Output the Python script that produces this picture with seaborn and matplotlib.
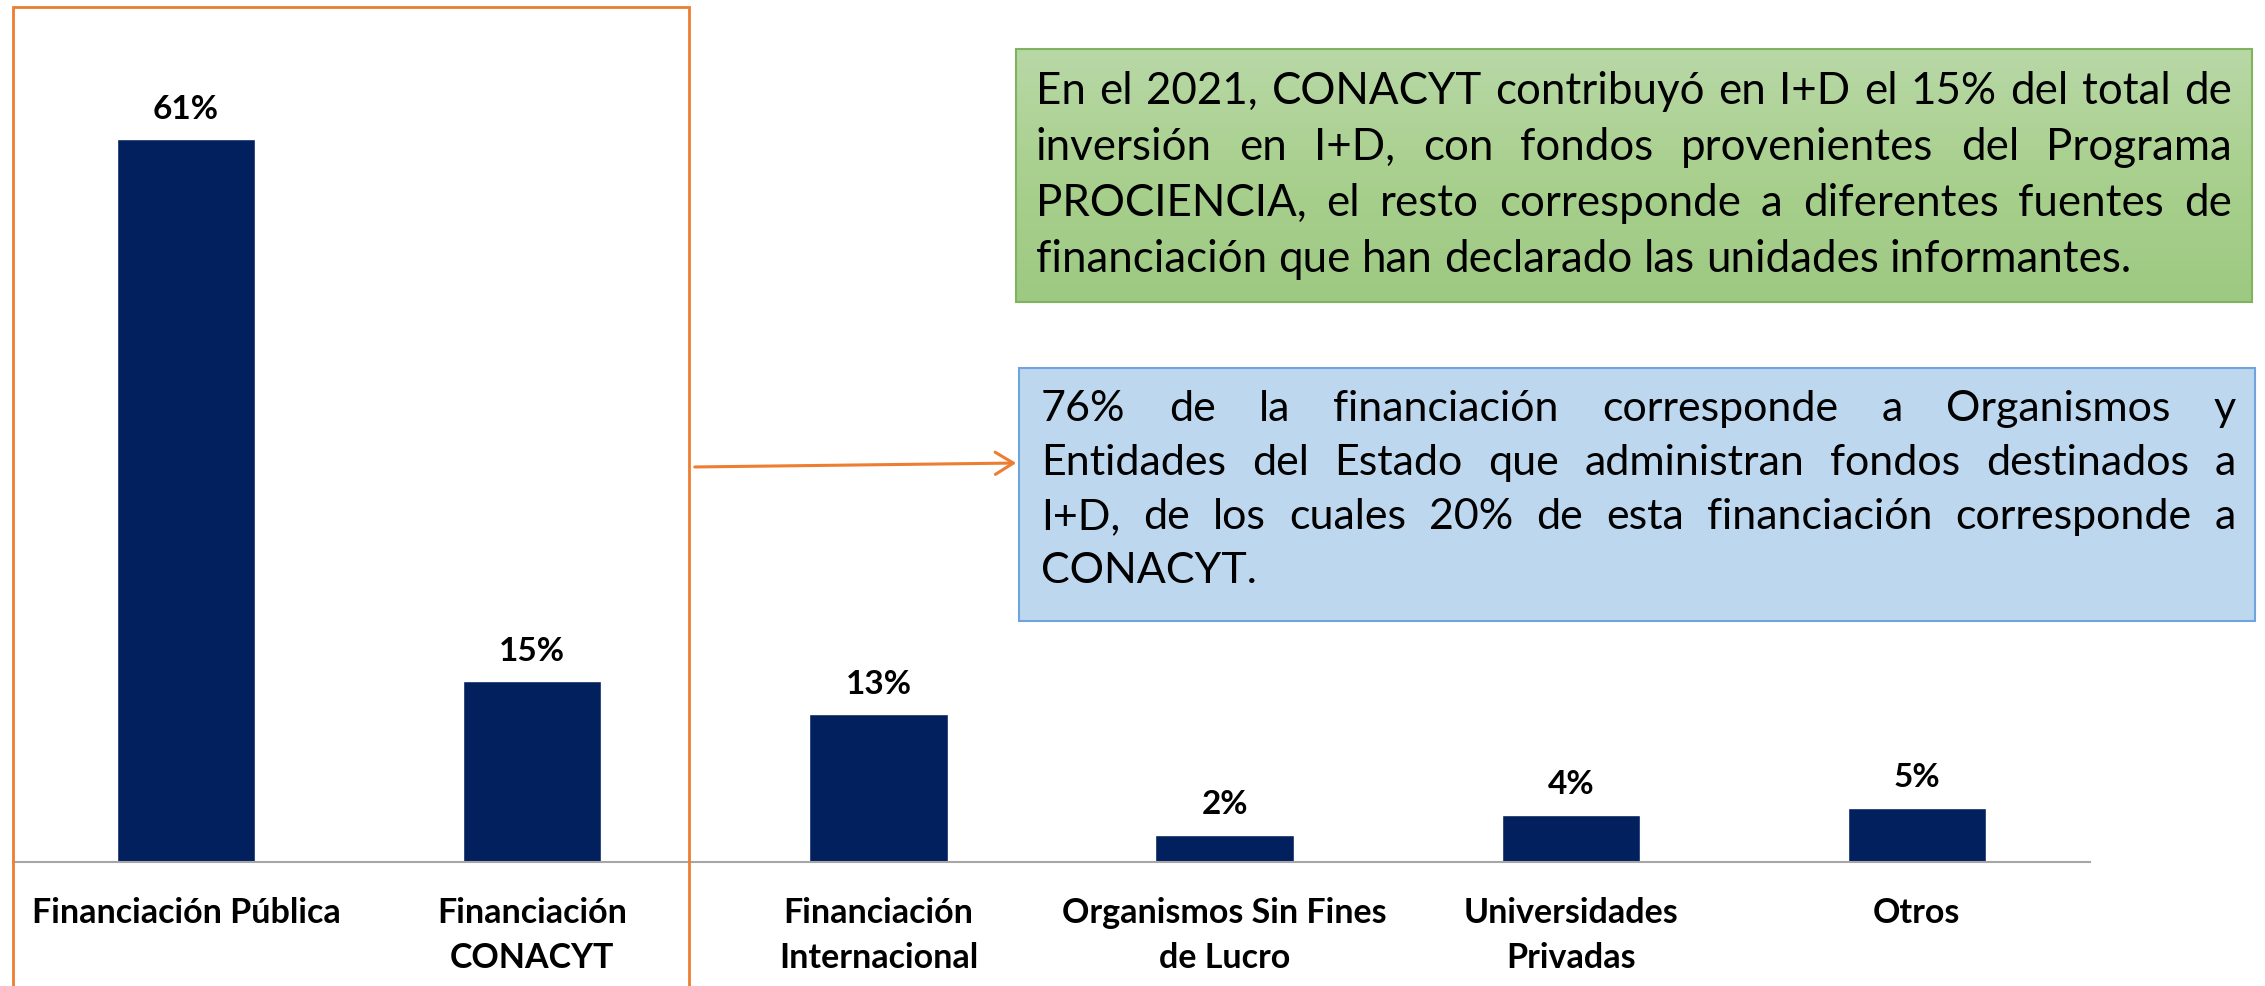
import matplotlib
matplotlib.use("Agg")
import matplotlib.pyplot as plt
import seaborn as sns
import numpy as np
import pandas as pd
from matplotlib.patches import Rectangle, FancyArrowPatch
from matplotlib.colors import LinearSegmentedColormap

# Data
categories = ["Financiación Pública", "Financiación\nCONACYT", "Financiación\nInternacional",
              "Organismos Sin Fines\nde Lucro", "Universidades\nPrivadas", "Otros"]
shares = [61.0, 15.3, 12.5, 2.3, 4.0, 4.6]
share_labels = ["61%", "15%", "13%", "2%", "4%", "5%"]

green_lines = [
    "En el 2021, CONACYT contribuyó en I+D el 15% del total de",
    "inversión en I+D, con fondos provenientes del Programa",
    "PROCIENCIA, el resto corresponde a diferentes fuentes de",
    "financiación que han declarado las unidades informantes.",
]
blue_lines = [
    "76% de la financiación corresponde a Organismos y",
    "Entidades del Estado que administran fondos destinados a",
    "I+D, de los cuales 20% de esta financiación corresponde a",
    "CONACYT.",
]

W, H = 2265, 986
sns.set_style("white")
plt.rcParams["font.family"] = ["Lato", "DejaVu Sans"]
plt.rcParams["text.color"] = "black"
plt.rcParams["xtick.color"] = "black"

df = pd.DataFrame({"cat": categories, "share": shares})

fig = plt.figure(figsize=(W / 100, H / 100), dpi=100)
ax = fig.add_axes([13 / W, 1 - 862 / H, (2090 - 13) / W, 822 / H])
sns.barplot(data=df, x="cat", y="share", color="#02205e", saturation=1, width=0.4, ax=ax)
ax.set_xlim(-0.5, 5.5)
ax.set_ylim(0, 69.4)
ax.bar_label(ax.containers[0], labels=share_labels, padding=11,
             fontsize=24, fontweight="bold", color="black")
ax.set_xlabel("")
ax.set_ylabel("")
ax.set_yticks([])
ax.tick_params(axis="x", length=0, pad=25, labelsize=24.5)
for lab in ax.get_xticklabels():
    lab.set_fontweight("bold")
    lab.set_linespacing(1.5)
for side in ["top", "left", "right"]:
    ax.spines[side].set_visible(False)
ax.spines["bottom"].set_color("#a6a6a6")
ax.spines["bottom"].set_linewidth(1.5)


def px(x, y):
    return x / W, 1 - y / H


# orange frame around public financing bars
fig.add_artist(Rectangle(px(13, 1000), 676 / W, 993 / H, transform=fig.transFigure,
                         fill=False, edgecolor="#ed7d31", linewidth=2))

# green box with a soft vertical gradient
gx0, gy0, gx1, gy1 = 1016, 49, 2252, 302
gax = fig.add_axes([gx0 / W, 1 - gy1 / H, (gx1 - gx0) / W, (gy1 - gy0) / H])
gcmap = LinearSegmentedColormap.from_list("g", ["#b8d8a6", "#a9d08e", "#9dc982"])
gax.imshow(np.linspace(0, 1, 100).reshape(-1, 1), cmap=gcmap, aspect="auto")
gax.axis("off")
fig.add_artist(Rectangle(px(gx0, gy1), (gx1 - gx0) / W, (gy1 - gy0) / H,
                         transform=fig.transFigure, fill=False,
                         edgecolor="#7fb35d", linewidth=1.5))

fig.add_artist(Rectangle(px(1019, 621), (2255 - 1019) / W, (621 - 368) / H,
                         transform=fig.transFigure, facecolor="#bdd7ee",
                         edgecolor="#6fa5dc", linewidth=1.5))

fig.add_artist(FancyArrowPatch(px(692, 467), px(1019, 463), transform=fig.transFigure,
                               arrowstyle="->,head_length=13,head_width=8",
                               color="#ed7d31", linewidth=2.2))

renderer = fig.canvas.get_renderer()


def justified(lines, x0, x1, y0, dy, size):
    t = fig.text(0, 0, "a a", fontsize=size)
    t2 = fig.text(0, 0, "aa", fontsize=size)
    sp = t.get_window_extent(renderer).width - t2.get_window_extent(renderer).width
    t.remove()
    t2.remove()
    for i, line in enumerate(lines):
        words = line.split()
        texts = [fig.text(0, 1 - (y0 + i * dy) / H, w, fontsize=size,
                          va="baseline", ha="left", zorder=5) for w in words]
        widths = [t.get_window_extent(renderer).width for t in texts]
        if i == len(lines) - 1:
            gap = sp
        else:
            gap = (x1 - x0 - sum(widths)) / (len(words) - 1)
        x = x0
        for t, w in zip(texts, widths):
            t.set_x(x / W)
            x += w + gap


justified(green_lines, 1036, 2232, 104, 56, 31.6)
justified(blue_lines, 1041, 2236, 421, 54, 31)

fig.savefig("out.png", dpi=100)
